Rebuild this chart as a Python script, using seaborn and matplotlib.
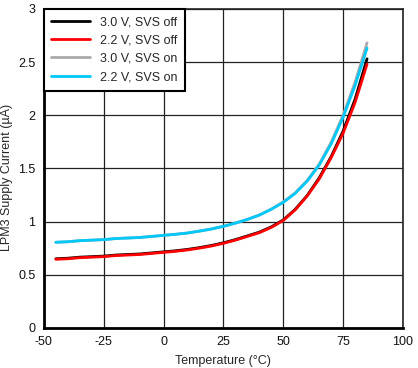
import numpy as np
import pandas as pd
import seaborn as sns
import matplotlib.pyplot as plt
import matplotlib.ticker as mtick

# Data
temp = [-45, -40, -35, -30, -25, -20, -15, -10, -5, 0, 5, 10, 15, 20,
        25, 30, 35, 40, 45, 50, 55, 60, 65, 70, 75, 80, 85]
v30_off = [0.650, 0.655, 0.665, 0.670, 0.675, 0.685, 0.690, 0.695, 0.705, 0.715, 0.725, 0.738,
           0.755, 0.775, 0.800, 0.830, 0.865, 0.900, 0.950, 1.015, 1.115, 1.245, 1.41, 1.61,
           1.85, 2.15, 2.53]
v22_off = [0.645, 0.650, 0.660, 0.665, 0.670, 0.680, 0.685, 0.690, 0.700, 0.710, 0.720, 0.733,
           0.750, 0.770, 0.795, 0.825, 0.860, 0.895, 0.945, 1.010, 1.110, 1.240, 1.40, 1.60,
           1.83, 2.12, 2.48]
v30_on = [0.805, 0.810, 0.820, 0.825, 0.830, 0.840, 0.845, 0.850, 0.860, 0.870, 0.880, 0.892,
          0.910, 0.930, 0.955, 0.985, 1.020, 1.062, 1.117, 1.185, 1.270, 1.387, 1.54, 1.745,
          2.00, 2.31, 2.68]
v22_on = [0.805, 0.810, 0.820, 0.825, 0.830, 0.840, 0.845, 0.850, 0.860, 0.870, 0.880, 0.892,
          0.910, 0.930, 0.955, 0.985, 1.020, 1.060, 1.115, 1.180, 1.265, 1.380, 1.53, 1.730,
          1.98, 2.28, 2.63]

labels = ["3.0 V, SVS off", "2.2 V, SVS off", "3.0 V, SVS on", "2.2 V, SVS on"]
colors = ["#000000", "#ff0000", "#aaaaaa", "#00c8f8"]

frames = []
for lab, vals in zip(labels, [v30_off, v22_off, v30_on, v22_on]):
    frames.append(pd.DataFrame({"temp": temp, "current": vals, "series": lab}))
df = pd.concat(frames, ignore_index=True)

sns.set_style("white")
plt.rcParams['font.family'] = ['Liberation Sans', 'DejaVu Sans']
plt.rcParams['axes.unicode_minus'] = False

fig = plt.figure(figsize=(4.18, 3.68), dpi=100)
ax = fig.add_axes([0.105, 0.109, 0.859, 0.867])

sns.lineplot(data=df, x="temp", y="current", hue="series", hue_order=labels,
             palette=colors, linewidth=2.0, ax=ax)

ax.set_xlim(-50, 100)
ax.set_ylim(0, 3)
ax.xaxis.set_major_locator(mtick.MultipleLocator(25))
ax.yaxis.set_major_locator(mtick.MultipleLocator(0.5))
ax.xaxis.set_major_formatter(mtick.FuncFormatter(lambda v, _: f"{v:g}"))
ax.yaxis.set_major_formatter(mtick.FuncFormatter(lambda v, _: f"{v:g}"))
ax.grid(True, color="#222222", linewidth=0.9)
ax.set_axisbelow(True)
ax.tick_params(axis="both", length=0, labelsize=9, colors="#111111", pad=6)

for side in ["top", "right"]:
    ax.spines[side].set_linewidth(1.2)
    ax.spines[side].set_color("#222222")
for side in ["left", "bottom"]:
    ax.spines[side].set_linewidth(2.0)
    ax.spines[side].set_color("#000000")

ax.set_xlabel("Temperature (°C)", fontsize=9, labelpad=5)
ax.set_ylabel("LPM3 Supply Current (µA)", fontsize=9)
ax.yaxis.set_label_coords(-0.087, 0.47)

leg = ax.legend(loc="upper left", fontsize=9, frameon=True, fancybox=False,
                borderaxespad=0, handlelength=3.1, handletextpad=0.8,
                borderpad=0.6, labelspacing=0.5)
leg.get_frame().set_edgecolor("#000000")
leg.get_frame().set_linewidth(1.5)
leg.get_frame().set_alpha(1)
for h in leg.get_lines():
    h.set_linewidth(2.0)

fig.savefig("out.png", dpi=100)
